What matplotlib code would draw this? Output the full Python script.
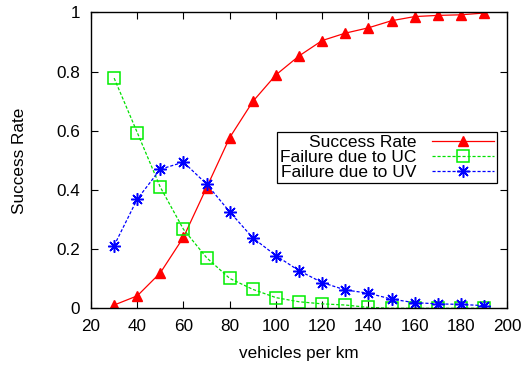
import matplotlib
matplotlib.use('Agg')
import matplotlib.pyplot as plt

# data
vehicles = [30, 40, 50, 60, 70, 80, 90, 100, 110, 120, 130, 140, 150, 160, 170, 180, 190]
success = [0.011, 0.042, 0.12, 0.24, 0.408, 0.577, 0.699, 0.789, 0.853, 0.905, 0.930,
           0.948, 0.972, 0.986, 0.990, 0.992, 0.998]
fail_uc = [0.778, 0.594, 0.409, 0.267, 0.171, 0.101, 0.064, 0.036, 0.022, 0.015, 0.011,
           0.003, 0.0, 0.0, 0.0, 0.0, 0.0]
fail_uv = [0.212, 0.369, 0.470, 0.494, 0.420, 0.326, 0.238, 0.178, 0.127, 0.087, 0.062,
           0.051, 0.031, 0.019, 0.015, 0.013, 0.009]
labels = ['Success Rate', 'Failure due to UC', 'Failure due to UV']

plt.rcParams['font.family'] = ['Liberation Sans', 'DejaVu Sans']
plt.rcParams['font.size'] = 12.3

fig = plt.figure(figsize=(5.24, 3.66), dpi=100)
ax = fig.add_axes([0.1737, 0.1577, 0.794, 0.8083])

ax.plot(vehicles, success, color='#ff0000', lw=0.9, marker='^', ms=7,
        mec='#ff0000', mfc='#ff0000', label=labels[0])
ax.plot(vehicles, fail_uc, color='#00e000', lw=0.9, ls=(0, (2.5, 1.5)), marker='s', ms=8,
        mfc='none', mec='#00ee00', mew=1.1, label=labels[1])
ax.plot(vehicles, fail_uv, color='#0000ff', lw=0.9, ls=(0, (2.5, 1.5)), marker=(8, 2, 0), ms=9,
        mec='#0000ff', mew=1.1, label=labels[2])

ax.set_xlim(20, 200)
ax.set_ylim(0, 1)
ax.set_xticks(range(20, 201, 20))
ax.set_yticks([0, 0.2, 0.4, 0.6, 0.8, 1])
ax.set_yticklabels(['0', '0.2', '0.4', '0.6', '0.8', '1'])
ax.tick_params(direction='in', top=True, right=True, length=5, width=0.8)
ax.tick_params(axis='x', pad=8)
ax.tick_params(axis='y', pad=8)
for s in ax.spines.values():
    s.set_linewidth(1.0)

ax.set_xlabel('vehicles per km', labelpad=8)
ax.set_ylabel('Success Rate', labelpad=21)

leg = ax.legend(loc='upper right', bbox_to_anchor=(497 / 524, 1 - 132 / 366),
                bbox_transform=fig.transFigure, markerfirst=False, numpoints=1,
                fancybox=False, framealpha=1, edgecolor='black', borderpad=0.15,
                fontsize=12.5, labelspacing=0.0, handlelength=3.6, handletextpad=0.9,
                borderaxespad=0)
leg.get_frame().set_linewidth(0.9)

fig.savefig('out.png', dpi=100)
